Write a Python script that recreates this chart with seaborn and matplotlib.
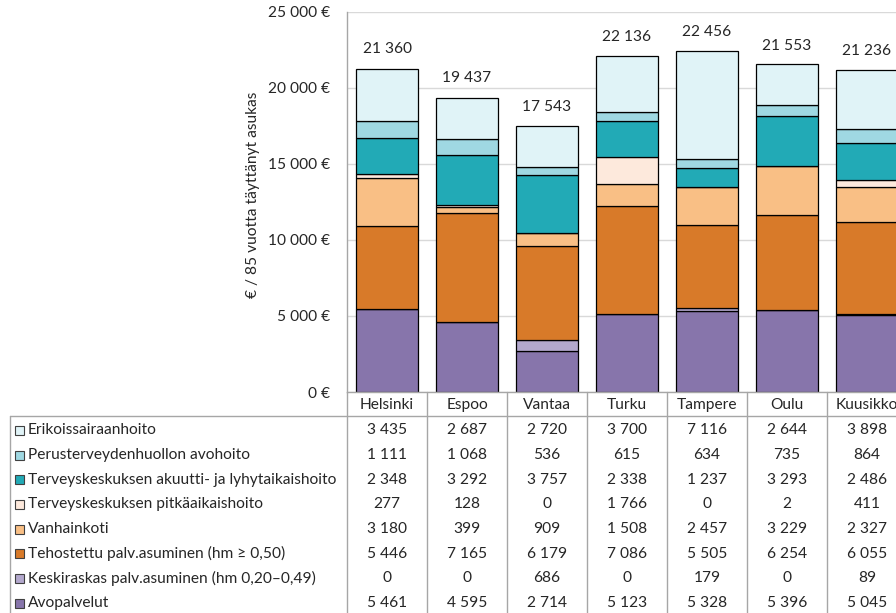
import matplotlib
matplotlib.use('Agg')
import matplotlib.pyplot as plt
from matplotlib.patches import Rectangle
import numpy as np
import seaborn as sns

cities = ['Helsinki', 'Espoo', 'Vantaa', 'Turku', 'Tampere', 'Oulu', 'Kuusikko']

# series from the bottom of the stack to the top
series = [
    'Avopalvelut',
    'Keskiraskas palv.asuminen (hm 0,20–0,49)',
    'Tehostettu palv.asuminen (hm ≥ 0,50)',
    'Vanhainkoti',
    'Terveyskeskuksen pitkäaikaishoito',
    'Terveyskeskuksen akuutti- ja lyhytaikaishoito',
    'Perusterveydenhuollon avohoito',
    'Erikoissairaanhoito',
]
avopalvelut = [5461, 4595, 2714, 5123, 5328, 5396, 5045]
keskiraskas = [0, 0, 686, 0, 179, 0, 89]
tehostettu = [5446, 7165, 6179, 7086, 5505, 6254, 6055]
vanhainkoti = [3180, 399, 909, 1508, 2457, 3229, 2327]
pitkaaikais = [277, 128, 0, 1766, 0, 2, 411]
akuutti = [2348, 3292, 3757, 2338, 1237, 3293, 2486]
avohoito = [1111, 1068, 536, 615, 634, 735, 864]
erikois = [3435, 2687, 2720, 3700, 7116, 2644, 3898]
totals = [21360, 19437, 17543, 22136, 22456, 21553, 21236]
yticks = [0, 5000, 10000, 15000, 20000, 25000]

values = [avopalvelut, keskiraskas, tehostettu, vanhainkoti,
          pitkaaikais, akuutti, avohoito, erikois]
colors = ['#8775AB', '#B3A8CD', '#D87A29', '#F9BF85',
          '#FDE9DC', '#22AAB6', '#9FD8E2', '#E0F3F7']


def fmt(v):
    return f'{v:,}'.replace(',', ' ')


sns.set_style('white')
plt.rcParams['font.family'] = ['Lato', 'DejaVu Sans']
fs = 11.2

W, H = 896, 613
fig = plt.figure(figsize=(W / 100, H / 100), dpi=100)

# plot area: 80 px per category, the last column runs past the right edge
left, top, bottom, colw = 347, 12, 392, 80
ax = fig.add_axes([left / W, (H - bottom) / H, colw * 7 / W, (bottom - top) / H])

cum = np.zeros(len(cities))
for name, vals, c in zip(series, values, colors):
    sns.barplot(x=cities, y=vals, bottom=cum.copy(), color=c, saturation=1,
                edgecolor='black', linewidth=0.9, width=0.77,
                errorbar=None, ax=ax)
    cum += np.array(vals)

for i, t in enumerate(totals):
    ax.text(i, t + 1200, fmt(t), ha='center', va='center', fontsize=fs)

ax.set_xlim(-0.5, 6.5)
ax.set_ylim(0, 25000)
ax.set_yticks(yticks)
ax.set_yticklabels([fmt(v) + ' €' for v in yticks])
ax.set_xticks([])
ax.set_xlabel('')
ax.yaxis.grid(True, color='#D9D9D9', lw=1)
ax.set_axisbelow(True)
ax.tick_params(axis='y', length=0, pad=12, labelsize=fs)
for s in ['top', 'right']:
    ax.spines[s].set_visible(False)
for s in ['left', 'bottom']:
    ax.spines[s].set_color('#A6A6A6')
    ax.spines[s].set_linewidth(1)
ax.set_ylabel('€ / 85 vuotta täyttänyt asukas', fontsize=fs)
ax.yaxis.set_label_coords(-0.155, 0.52)

# data table below the plot, drawn in pixel coordinates
tab = fig.add_axes([0, 0, 1, 1])
tab.set_xlim(0, W)
tab.set_ylim(H, 0)
tab.axis('off')
gray = '#A6A6A6'
x0, head_bot = 10, 416
right = left + colw * 7
tab.plot([x0, right], [head_bot, head_bot], color=gray, lw=1)
tab.plot([x0, x0], [head_bot, H], color=gray, lw=1)
for k in range(8):
    xk = left + colw * k
    tab.plot([xk, xk], [bottom, H], color=gray, lw=1)

for j, city in enumerate(cities):
    tab.text(left + colw * (j + 0.5), 405, city, ha='center', va='center', fontsize=fs)

rows = list(zip(series, values, colors))[::-1]
for r, (name, vals, c) in enumerate(rows):
    y = 430.3 + 24.7 * r
    tab.add_patch(Rectangle((15, y - 4.5), 9, 9, facecolor=c,
                            edgecolor='#404040', lw=0.8))
    tab.text(28, y, name, ha='left', va='center', fontsize=fs)
    for j, v in enumerate(vals):
        tab.text(left + colw * (j + 0.5), y, fmt(v), ha='center', va='center', fontsize=fs)

fig.savefig('out.png', dpi=100)
